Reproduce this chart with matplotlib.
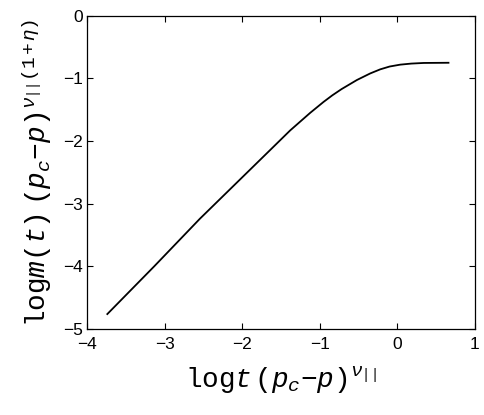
import matplotlib
matplotlib.use("Agg")
import matplotlib.pyplot as plt

x_vals = [-3.744, -3.14, -2.55, -1.64, -1.384, -1.126, -0.953, -0.84, -0.72, -0.522, -0.35, -0.221, -0.1, 0.037, 0.18, 0.34, 0.66]
y_vals = [-4.76, -4.00, -3.24, -2.14, -1.83, -1.55, -1.375, -1.27, -1.17, -1.025, -0.92, -0.855, -0.81, -0.78, -0.763, -0.753, -0.75]
x_ticks = [-4, -3, -2, -1, 0, 1]
y_ticks = [0, -1, -2, -3, -4, -5]

plt.rcParams['mathtext.fontset'] = 'custom'
plt.rcParams['mathtext.rm'] = 'Liberation Mono'
plt.rcParams['mathtext.it'] = 'Liberation Mono:italic'
plt.rcParams['mathtext.sf'] = 'Liberation Mono'

fig = plt.figure(figsize=(4.85, 4.15), dpi=100)
ax = fig.add_axes([0.1804, 0.207, 0.7986, 0.755])
ax.plot(x_vals, y_vals, color='black', lw=1.3, solid_joinstyle='round')
ax.set_xlim(-4, 1)
ax.set_ylim(-5, 0)
ax.set_xticks(x_ticks)
ax.set_yticks(y_ticks)
ax.set_xticklabels(['\u22124', '\u22123', '\u22122', '\u22121', '0', '1'])
ax.set_yticklabels(['0', '\u22121', '\u22122', '\u22123', '\u22124', '\u22125'])
ax.tick_params(direction='in', length=4, top=True, right=True, labelsize=12.5, width=0.8)
ax.tick_params(axis='x', pad=6)
for lab in ax.get_xticklabels() + ax.get_yticklabels():
    lab.set_fontfamily('Liberation Sans')
for s in ax.spines.values():
    s.set_linewidth(0.9)

ax.set_xlabel(r'$\mathrm{log}t\,\mathrm{(}p_c\mathrm{-}p\mathrm{)}^{\nu_{||}}$', fontsize=20, labelpad=8)
ax.set_ylabel(r'$\mathrm{log}m\mathrm{(}t\mathrm{)\ (}p_c\mathrm{-}p\mathrm{)}^{\nu_{||}\mathrm{(1+}\eta\mathrm{)}}$', fontsize=20, labelpad=6)

fig.savefig('out.png', dpi=100)
